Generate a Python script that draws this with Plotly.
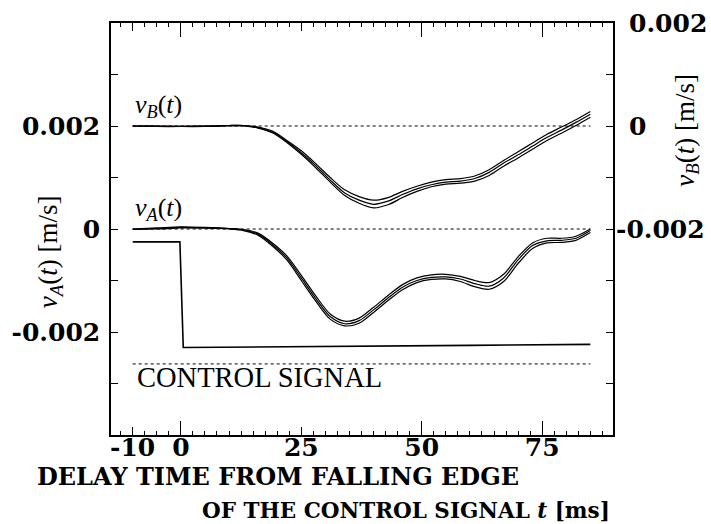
import plotly.graph_objects as go

# ---------------- data (velocities in units of 1e-3 m/s) ----------------
SCALE = 1e-3
t = [-10, -5, 0, 5, 10, 13, 16, 19, 22, 25, 28, 31, 34, 37, 40, 43, 46, 49,
     52, 55, 58, 61, 64, 67, 70, 73, 76, 79, 82, 85]

vA_1 = [0.00, 0.02, 0.04, 0.03, 0.01, -0.01, -0.08, -0.27, -0.52, -0.90, -1.30, -1.65,
        -1.79, -1.73, -1.52, -1.29, -1.08, -0.95, -0.89, -0.88, -0.92, -1.00, -1.04,
        -0.88, -0.54, -0.27, -0.18, -0.18, -0.14, 0.00]
vA_2 = [0.00, 0.01, 0.03, 0.02, 0.01, -0.02, -0.10, -0.30, -0.56, -0.95, -1.35, -1.70,
        -1.84, -1.78, -1.57, -1.34, -1.13, -1.00, -0.94, -0.93, -0.97, -1.06, -1.11,
        -0.95, -0.60, -0.32, -0.23, -0.22, -0.18, -0.03]
vA_3 = [-0.01, 0.00, 0.02, 0.02, 0.00, -0.03, -0.12, -0.33, -0.60, -1.00, -1.40, -1.75,
        -1.88, -1.83, -1.62, -1.39, -1.18, -1.04, -0.98, -0.97, -1.02, -1.12, -1.17,
        -1.02, -0.67, -0.38, -0.27, -0.26, -0.22, -0.07]

vB_1 = [0.00, 0.00, 0.00, 0.00, 0.01, 0.01, -0.02, -0.10, -0.28, -0.48, -0.73, -1.00,
        -1.24, -1.37, -1.44, -1.39, -1.27, -1.17, -1.09, -1.04, -1.02, -0.97, -0.85,
        -0.67, -0.50, -0.33, -0.16, -0.02, 0.12, 0.28]
vB_2 = [0.00, 0.00, -0.01, 0.00, 0.01, 0.01, -0.03, -0.12, -0.30, -0.52, -0.77, -1.05,
        -1.30, -1.44, -1.52, -1.46, -1.33, -1.22, -1.14, -1.09, -1.07, -1.02, -0.90,
        -0.72, -0.56, -0.39, -0.22, -0.08, 0.07, 0.23]
vB_3 = [0.00, -0.01, -0.01, -0.01, 0.00, 0.00, -0.04, -0.13, -0.32, -0.55, -0.81, -1.09,
        -1.35, -1.50, -1.59, -1.53, -1.39, -1.27, -1.18, -1.13, -1.11, -1.07, -0.96,
        -0.78, -0.62, -0.45, -0.28, -0.14, 0.01, 0.17]

ctrl_t = [-10, -0.2, 0.5, 20, 40, 60, 85]
ctrl_v = [-0.25, -0.25, -2.30, -2.29, -2.28, -2.26, -2.24]
ctrl_base = -2.62
ref_span = [-10, 85]

x_ticks = [-10, 0, 25, 50, 75]
x_long_ticks = [0, 50, 75]
yA_ticks = [-3, -2, -1, 0, 1, 2, 3]
yA_labels = ["", "-0.002", "", "0", "", "0.002", ""]
yB_ticks = [-5, -4, -3, -2, -1, 0, 1]
yB_label_vals = [2, 0, -2]
yB_labels = ["0.002", "0", "-0.002"]

# ---------------- figure ----------------
BOLD = "DejaVu Serif"
REG = "Liberation Serif"
fig = go.Figure()

def sc(a):
    return [v * SCALE for v in a]

dash = dict(color="black", width=1, dash="3px,3px")
fig.add_trace(go.Scatter(x=ref_span, y=[0, 0], mode="lines", yaxis="y", line=dash, showlegend=False))
fig.add_trace(go.Scatter(x=ref_span, y=[0, 0], mode="lines", yaxis="y2", line=dash, showlegend=False))
fig.add_trace(go.Scatter(x=ref_span, y=sc([ctrl_base, ctrl_base]), mode="lines", yaxis="y",
                         line=dash, showlegend=False))

for arr in (vA_1, vA_2, vA_3):
    fig.add_trace(go.Scatter(x=t, y=sc(arr), mode="lines", yaxis="y",
                             line=dict(color="black", width=1.2, shape="spline", smoothing=0.8),
                             showlegend=False))
for arr in (vB_1, vB_2, vB_3):
    fig.add_trace(go.Scatter(x=t, y=sc(arr), mode="lines", yaxis="y2",
                             line=dict(color="black", width=1.2, shape="spline", smoothing=0.8),
                             showlegend=False))

fig.add_trace(go.Scatter(x=ctrl_t, y=sc(ctrl_v), mode="lines", yaxis="y",
                         line=dict(color="black", width=1.6), showlegend=False))

# invisible trace to activate the long-tick x axis
fig.add_trace(go.Scatter(x=[0], y=[0], xaxis="x2", yaxis="y", mode="markers",
                         marker=dict(opacity=0), showlegend=False, hoverinfo="skip"))

XR = [-14.5, 89.7]
tickfont = dict(family=BOLD, size=25, color="black", weight="bold")

fig.update_layout(
    width=711, height=524,
    margin=dict(l=109, r=98, t=23, b=89),
    paper_bgcolor="white", plot_bgcolor="white",
    xaxis=dict(range=XR, tickvals=x_ticks, ticktext=[str(v) for v in x_ticks],
               ticks="inside", ticklen=8, tickwidth=1.2, tickcolor="black",
               minor=dict(dtick=2.5, tick0=0, ticks="inside", ticklen=4, tickwidth=1, tickcolor="black"),
               showline=True, linecolor="black", linewidth=1.5, mirror="ticks",
               showgrid=False, zeroline=False, tickfont=tickfont, ticklabelstandoff=-11),
    xaxis2=dict(range=XR, overlaying="x", anchor="y", side="bottom", tickvals=x_long_ticks,
                ticks="inside", ticklen=14, tickwidth=1.2, tickcolor="black",
                showticklabels=False, showline=False, mirror="ticks", showgrid=False, zeroline=False),
    yaxis=dict(range=[-4 * SCALE, 4 * SCALE], tickvals=sc(yA_ticks), ticktext=yA_labels,
               ticks="inside", ticklen=7, tickwidth=1.2, tickcolor="black",
               showline=True, linecolor="black", linewidth=1.5,
               showgrid=False, zeroline=False, tickfont=tickfont, ticklabelstandoff=4),
    yaxis2=dict(range=[-6 * SCALE, 2 * SCALE], overlaying="y", side="right", anchor="x",
                tickvals=sc(yB_ticks), ticks="inside", ticklen=7, tickwidth=1.2, tickcolor="black",
                showticklabels=False, showline=True, linecolor="black", linewidth=1.5,
                showgrid=False, zeroline=False),
)

PW = 711 - 109 - 98
PH = 524 - 23 - 89

def px(xp):
    return (xp - 109) / PW

def py(yp):
    return 1 - (yp - 23) / PH

ann = []
# right axis tick labels
for val, lab in zip(yB_label_vals, yB_labels):
    xl = 614 if lab.startswith("-") else 627
    ann.append(dict(text=lab, x=px(xl), xref="paper", y=val * SCALE, yref="y2",
                    xanchor="left", yanchor="middle", showarrow=False,
                    font=dict(family=BOLD, size=25, color="black", weight="bold")))

mathfont = dict(family=REG, size=26, color="black")
ann.append(dict(text="<i>v</i><sub><i>B</i></sub>(<i>t</i>)", x=-10, y=2.38 * SCALE,
                xref="x", yref="y", xanchor="left", yanchor="middle", showarrow=False, font=mathfont))
ann.append(dict(text="<i>v</i><sub><i>A</i></sub>(<i>t</i>)", x=-10, y=0.39 * SCALE,
                xref="x", yref="y", xanchor="left", yanchor="middle", showarrow=False, font=mathfont))
ann.append(dict(text="CONTROL SIGNAL", x=-9.5, y=-2.88 * SCALE,
                xref="x", yref="y", xanchor="left", yanchor="middle", showarrow=False,
                font=dict(family=REG, size=28.5, color="black")))

# axis titles
axfont = dict(family=REG, size=27, color="black")
ann.append(dict(text="<i>v</i><sub><i>A</i></sub>(<i>t</i>) [m/s]", x=px(48), y=py(252),
                xref="paper", yref="paper", xanchor="center", yanchor="middle",
                textangle=-90, showarrow=False, font=axfont))
ann.append(dict(text="<i>v</i><sub><i>B</i></sub>(<i>t</i>) [m/s]", x=px(687), y=py(130),
                xref="paper", yref="paper", xanchor="center", yanchor="middle",
                textangle=-90, showarrow=False, font=axfont))

ann.append(dict(text="DELAY TIME FROM FALLING EDGE", x=px(277), y=py(476),
                xref="paper", yref="paper", xanchor="center", yanchor="middle",
                showarrow=False, font=dict(family=BOLD, size=24, color="black", weight="bold")))
ann.append(dict(text="OF THE CONTROL SIGNAL <i>t</i> [ms]", x=px(612), y=py(510),
                xref="paper", yref="paper", xanchor="right", yanchor="middle",
                showarrow=False, font=dict(family=BOLD, size=21.5, color="black", weight="bold")))

fig.update_layout(annotations=ann)

fig.write_html("out.html")
